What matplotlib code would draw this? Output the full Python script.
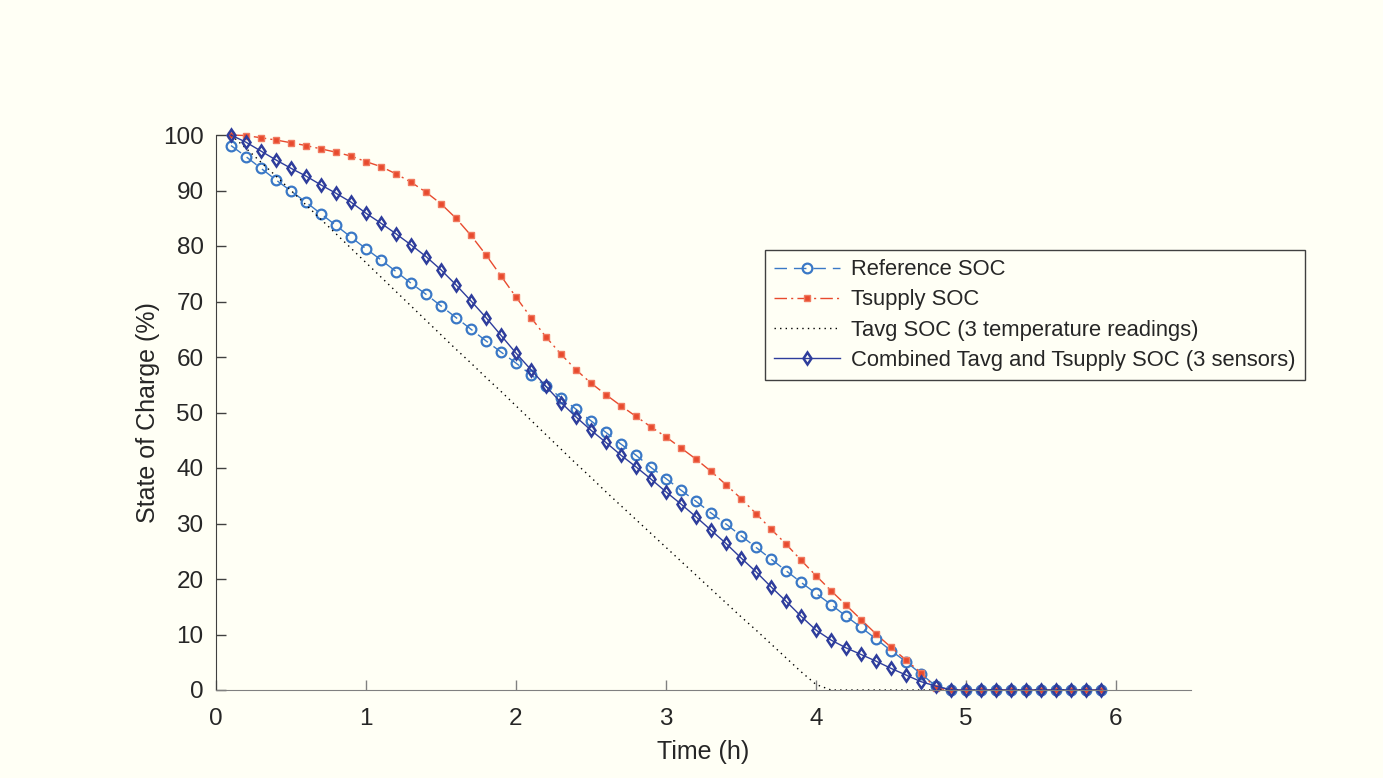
import numpy as np
import matplotlib
matplotlib.use('Agg')
import matplotlib.pyplot as plt

plt.rcParams['font.family'] = ['Liberation Sans', 'DejaVu Sans']

# sample times (h)
time_h = [0.1, 0.2, 0.3, 0.4, 0.5, 0.6, 0.7, 0.8, 0.9, 1.0,
          1.1, 1.2, 1.3, 1.4, 1.5, 1.6, 1.7, 1.8, 1.9, 2.0,
          2.1, 2.2, 2.3, 2.4, 2.5, 2.6, 2.7, 2.8, 2.9, 3.0,
          3.1, 3.2, 3.3, 3.4, 3.5, 3.6, 3.7, 3.8, 3.9, 4.0,
          4.1, 4.2, 4.3, 4.4, 4.5, 4.6, 4.7, 4.8, 4.9, 5.0,
          5.1, 5.2, 5.3, 5.4, 5.5, 5.6, 5.7, 5.8, 5.9]

# SOC readings (%)
reference_soc = [98.1, 96.1, 94.0, 91.9, 89.9, 87.9, 85.8, 83.7, 81.6, 79.5,
                 77.5, 75.4, 73.3, 71.3, 69.2, 67.1, 65.0, 62.9, 60.9, 58.9,
                 56.8, 54.7, 52.7, 50.6, 48.5, 46.4, 44.3, 42.3, 40.1, 38.1,
                 36.0, 34.0, 31.9, 29.9, 27.8, 25.7, 23.6, 21.5, 19.4, 17.4,
                 15.4, 13.3, 11.3, 9.2, 7.1, 5.1, 2.9, 0.7, 0, 0,
                 0, 0, 0, 0, 0, 0, 0, 0, 0]

tsupply_soc = [100, 99.9, 99.5, 99.1, 98.6, 98.1, 97.5, 96.9, 96.2, 95.2,
               94.3, 93.0, 91.5, 89.7, 87.6, 85.0, 81.9, 78.4, 74.6, 70.8,
               67.1, 63.6, 60.5, 57.7, 55.3, 53.2, 51.2, 49.3, 47.4, 45.6,
               43.6, 41.6, 39.4, 37.0, 34.5, 31.8, 29.0, 26.3, 23.4, 20.6,
               17.9, 15.3, 12.7, 10.1, 7.7, 5.4, 3.1, 0.3, 0, 0,
               0, 0, 0, 0, 0, 0, 0, 0, 0]

tavg_soc = [100, 97.6, 95.1, 92.6, 90.0, 87.4, 84.8, 82.2, 79.6, 77.0,
            74.4, 71.8, 69.2, 66.6, 64.0, 61.4, 58.9, 56.3, 53.8, 51.2,
            48.6, 46.0, 43.4, 40.8, 38.3, 35.7, 33.2, 30.7, 28.2, 25.7,
            23.2, 20.7, 18.2, 15.7, 13.2, 10.8, 8.3, 5.8, 3.3, 1.0,
            0, 0, 0, 0, 0, 0, 0, 0, 0, 0,
            0, 0, 0, 0, 0, 0, 0, 0, 0]

combined_soc = [100, 98.7, 97.1, 95.5, 94.0, 92.6, 91.0, 89.5, 87.9, 85.9,
                84.1, 82.2, 80.2, 78.1, 75.7, 73.0, 70.1, 67.1, 63.9, 60.7,
                57.7, 54.7, 51.8, 49.2, 46.8, 44.6, 42.3, 40.2, 38.0, 35.7,
                33.5, 31.2, 28.8, 26.4, 23.8, 21.3, 18.6, 16.0, 13.3, 10.8,
                9.0, 7.6, 6.4, 5.2, 3.9, 2.7, 1.5, 0.7, 0, 0,
                0, 0, 0, 0, 0, 0, 0, 0, 0]

bg = '#fffff5'
txt = '#262626'

fig = plt.figure(figsize=(13.83, 7.78), dpi=100, facecolor=bg)
ax = fig.add_axes([216 / 1383, 88 / 778, 975 / 1383, 555 / 778])
ax.set_facecolor(bg)

ax.plot(time_h, reference_soc, color='#3a78c6', lw=1, ls=(0, (9, 5)),
        marker='o', ms=7, mfc='none', mew=1.6, label='Reference SOC', clip_on=False)
ax.plot(time_h, tsupply_soc, color='#e84a2e', lw=1, ls=(0, (9, 3, 1.5, 3)),
        marker='s', ms=5, mfc='#e84a2e', mec='#f07a60', mew=1, label='Tsupply SOC', clip_on=False)
ax.plot(time_h, tavg_soc, color='black', lw=1, ls=(0, (1, 3)),
        label='Tavg SOC (3 temperature readings)', clip_on=False)
ax.plot(time_h, combined_soc, color='#2e3d9c', lw=1, ls='-',
        marker='d', ms=6.5, mfc='none', mew=1.8,
        label='Combined Tavg and Tsupply SOC (3 sensors)', clip_on=False)

ax.set_xlim(0, 6.5)
ax.set_ylim(0, 100)
ax.set_xticks(range(0, 7))
ax.set_yticks(range(0, 101, 10))

for side in ('top', 'right'):
    ax.spines[side].set_visible(False)
ax.spines['left'].set_color('#404040')
ax.spines['bottom'].set_color('#808080')
ax.tick_params(direction='in', length=7, width=1, labelsize=17.5, labelcolor=txt,
               colors='#404040', pad=9)
ax.tick_params(axis='x', colors='#808080', labelcolor=txt, pad=13)

ax.set_xlabel('Time (h)', fontsize=18, color=txt, labelpad=7)
ax.set_ylabel('State of Charge (%)', fontsize=18, color=txt, labelpad=2)

leg = ax.legend(loc='upper right', bbox_to_anchor=(1305 / 1383, 528 / 778),
                bbox_transform=fig.transFigure, fontsize=15.8, numpoints=1,
                handlelength=3.0, handletextpad=0.5, labelspacing=0.42,
                borderpad=0.42, borderaxespad=0, fancybox=False, framealpha=1,
                facecolor=bg, edgecolor='#404040')
leg.get_frame().set_linewidth(1)
for t in leg.get_texts():
    t.set_color(txt)

plt.savefig('out.png', dpi=100, facecolor=bg)
